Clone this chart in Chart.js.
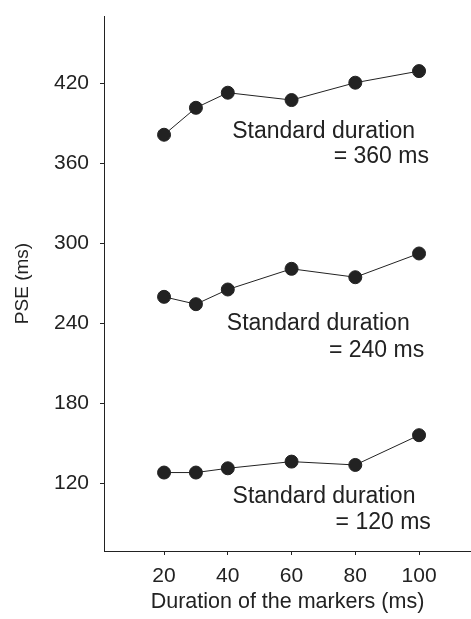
<!DOCTYPE html>
<html>
<head>
<meta charset="utf-8">
<script src="https://cdn.jsdelivr.net/npm/chart.js@4/dist/chart.umd.min.js"></script>
<style>
  html, body { margin: 0; padding: 0; background: #fff; }
  #wrap { width: 471px; height: 619px; position: relative; }
</style>
</head>
<body>
<div id="wrap"><canvas id="chart"></canvas></div>
<script>
// marker durations (ms) on the x axis
const markerDurations = [20, 30, 40, 60, 80, 100];

// PSE values (ms), one list per standard duration
const pse360 = [381.5, 401.7, 413, 407.5, 420.5, 429.2];
const pse240 = [260, 254.5, 265.5, 281, 274.7, 292.5];
const pse120 = [128.3, 128.3, 131.5, 136.5, 134, 156.3];

const xTicks = [20, 40, 60, 80, 100];
const yTicks = [120, 180, 240, 300, 360, 420];

const noteLines = [
  ["Standard duration", "= 360 ms"],
  ["Standard duration", "= 240 ms"],
  ["Standard duration", "= 120 ms"]
];

const FONT = "'Liberation Sans', Arial, Helvetica, sans-serif";
const INK = "#222";

function toPoints(values) {
  return values.map((v, i) => ({ x: markerDurations[i], y: v }));
}

function seriesStyle(label, values) {
  return {
    label: label,
    data: toPoints(values),
    borderColor: INK,
    borderWidth: 1,
    pointRadius: 6.5,
    pointBorderWidth: 1,
    pointBackgroundColor: INK,
    pointBorderColor: INK,
    tension: 0
  };
}

// where each note sits, in data units (left of line 1, right of line 2, baselines)
const noteAnchors = [
  { left: 41.4, right: 103.1, y1: 379.2, y2: 360 },
  { left: 39.7, right: 101.6, y1: 235.0, y2: 215 },
  { left: 41.5, right: 103.7, y1: 105.7, y2: 86.2 }
];

const notesPlugin = {
  id: "notes",
  afterDatasetsDraw(chart) {
    const { ctx, scales } = chart;
    ctx.save();
    ctx.fillStyle = INK;
    ctx.font = "23px " + FONT;
    ctx.textBaseline = "alphabetic";
    noteLines.forEach((lines, i) => {
      const a = noteAnchors[i];
      ctx.textAlign = "left";
      ctx.fillText(lines[0], scales.x.getPixelForValue(a.left), scales.y.getPixelForValue(a.y1));
      ctx.textAlign = "right";
      ctx.fillText(lines[1], scales.x.getPixelForValue(a.right), scales.y.getPixelForValue(a.y2));
    });
    ctx.restore();
  }
};

function noPad(s) {
  s.paddingTop = 0;
  s.paddingBottom = 0;
  s.paddingLeft = 0;
  s.paddingRight = 0;
}

new Chart(document.getElementById("chart"), {
  type: "line",
  data: {
    datasets: [
      seriesStyle("360 ms", pse360),
      seriesStyle("240 ms", pse240),
      seriesStyle("120 ms", pse120)
    ]
  },
  options: {
    responsive: true,
    maintainAspectRatio: false,
    animation: false,
    layout: { autoPadding: false, padding: { top: 16, right: 0, bottom: 0, left: 0 } },
    plugins: {
      legend: { display: false },
      tooltip: { enabled: false }
    },
    scales: {
      x: {
        type: "linear",
        min: 1.16,
        max: 116.3,
        afterBuildTicks: (s) => { s.ticks = xTicks.map(v => ({ value: v })); },
        afterFit: (s) => { s.height = 68; noPad(s); },
        border: { display: true, color: INK, width: 1 },
        grid: { drawOnChartArea: false, drawTicks: true, tickLength: 4, color: INK },
        ticks: { color: INK, font: { family: FONT, size: 21 }, padding: 9, maxRotation: 0 },
        title: {
          display: true,
          text: "Duration of the markers (ms)",
          color: INK,
          font: { family: FONT, size: 21.5 },
          padding: { top: 0, bottom: 3.7 }
        }
      },
      y: {
        type: "linear",
        min: 69.5,
        max: 470.5,
        afterBuildTicks: (s) => { s.ticks = yTicks.map(v => ({ value: v })); },
        afterFit: (s) => { s.width = 104; noPad(s); },
        border: { display: true, color: INK, width: 1 },
        grid: { drawOnChartArea: false, drawTicks: true, tickLength: 4, color: INK },
        ticks: { color: INK, font: { family: FONT, size: 21 }, padding: 11 },
        title: {
          display: true,
          text: "PSE (ms)",
          color: INK,
          font: { family: FONT, size: 19 },
          padding: { top: 11.5, bottom: 0 }
        }
      }
    }
  },
  plugins: [notesPlugin]
});
</script>
</body>
</html>
